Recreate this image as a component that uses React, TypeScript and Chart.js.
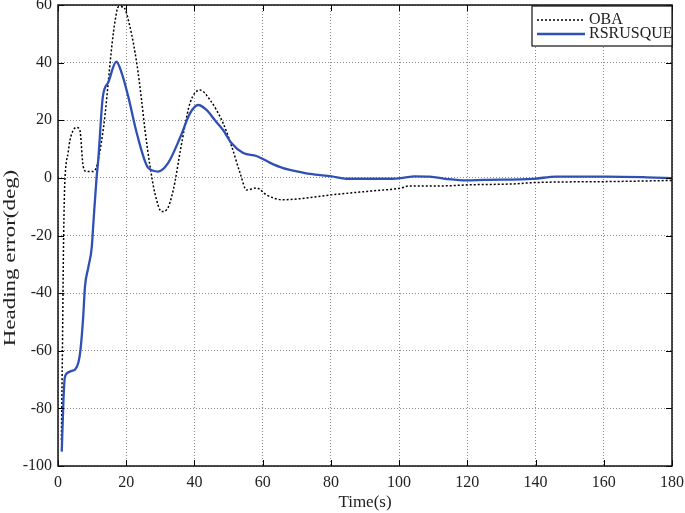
import React, { useEffect, useRef } from "react";
import { Chart, registerables } from "chart.js";

Chart.register(...registerables);

const obaTime = [1.0, 1.3, 1.6, 1.9, 2.1, 3.0, 3.5, 4.5, 5.5, 6.4, 7.4, 8.4, 10.3, 11.3, 12.8, 13.8, 14.8, 15.8, 16.8, 17.7, 19.1, 21.1, 23.1, 24.5, 25.5, 27, 28.4, 30.4, 31.9, 33.8, 35.8, 37.2, 38.7, 41.6, 44.6, 48.4, 50.9, 53.4, 55.3, 58.2, 61.2, 66, 70.4, 80.2, 92.4, 100.3, 103, 112, 120.8, 133.4, 140.3, 160.8, 180];
const obaValues = [-91, -60, -25, -5, 1, 9, 13, 16.6, 17.5, 16.6, 3.9, 2.2, 2.2, 3.9, 13, 22, 34, 46, 55, 59.4, 59.4, 52.4, 39.7, 27, 16.6, 3.9, -5.3, -11.7, -11, -4.2, 9, 18, 26, 30.5, 27, 19, 11, 1.6, -4.2, -3.5, -6, -7.6, -7.3, -5.9, -4.5, -3.6, -2.8, -2.8, -2.4, -2.1, -1.6, -1.3, -0.9];

const rsTime = [1.1, 1.6, 2.0, 3.0, 4.0, 5.0, 6.0, 6.6, 7.4, 7.9, 8.9, 9.9, 10.3, 11.3, 11.8, 13.1, 14.8, 17.1, 18.7, 20.6, 23.1, 26.5, 29.4, 32.3, 35.8, 38.7, 41.1, 43.6, 46, 48.4, 50.9, 54.3, 58.2, 62.2, 66, 70.4, 73.9, 80.2, 84.6, 98, 101.5, 104.5, 109, 114, 119.8, 125, 139.3, 146, 160.8, 172.6, 180];
const rsValues = [-95, -77, -69.3, -67.5, -67, -66.5, -64, -59.6, -48, -37.8, -31, -24, -17, 0, 6.2, 27.7, 33.3, 40.3, 36.3, 28.2, 15.5, 3.4, 2.2, 5.2, 14, 22.4, 25.3, 23.5, 20, 16.6, 12, 8.6, 7.6, 5.2, 3.4, 2.2, 1.4, 0.5, -0.3, -0.3, 0.1, 0.5, 0.4, -0.4, -0.9, -0.7, -0.35, 0.46, 0.46, 0.2, -0.1];

const seriesLabels = ["OBA", "RSRUSQUE"];
const xTitle = "Time(s)";
const yTitle = "Heading error(deg)";

const FONT = "'Liberation Serif', 'Times New Roman', serif";
const BLUE = "#2f50b4";

const boxPlugin = {
  id: "boxTicksLegend",
  afterDraw(chart: any) {
    const { ctx, chartArea } = chart;
    const { left, right, top, bottom } = chartArea;
    const xs = chart.scales.x;
    const ys = chart.scales.y;
    ctx.save();
    // inward ticks
    ctx.strokeStyle = "#000";
    ctx.lineWidth = 1;
    ctx.setLineDash([]);
    ctx.beginPath();
    xs.ticks.forEach((t: any) => {
      const px = Math.round(xs.getPixelForValue(t.value)) + 0.5;
      ctx.moveTo(px, bottom);
      ctx.lineTo(px, bottom - 6);
      ctx.moveTo(px, top);
      ctx.lineTo(px, top + 6);
    });
    ys.ticks.forEach((t: any) => {
      const py = Math.round(ys.getPixelForValue(t.value)) + 0.5;
      ctx.moveTo(left, py);
      ctx.lineTo(left + 6, py);
      ctx.moveTo(right, py);
      ctx.lineTo(right - 6, py);
    });
    ctx.stroke();
    // box
    ctx.lineWidth = 1.5;
    ctx.strokeStyle = "#111";
    ctx.strokeRect(left, top, right - left, bottom - top);
    // y title
    ctx.save();
    ctx.translate(11, 258);
    ctx.rotate(-Math.PI / 2);
    ctx.scale(1.35, 1);
    ctx.fillStyle = "#222";
    ctx.font = `17px ${FONT}`;
    ctx.textAlign = "center";
    ctx.textBaseline = "middle";
    ctx.fillText(yTitle, 0, 0);
    ctx.restore();
    // legend
    const lx = 532, ly = top + 1, lw = right - 532, lh = 40;
    ctx.fillStyle = "#fff";
    ctx.fillRect(lx, ly, lw, lh);
    ctx.lineWidth = 1.2;
    ctx.strokeStyle = "#111";
    ctx.strokeRect(lx, ly, lw, lh);
    const rows = [20, 34];
    chart.data.datasets.forEach((ds: any, i: number) => {
      const y = rows[i];
      ctx.beginPath();
      ctx.strokeStyle = ds.borderColor;
      ctx.lineWidth = ds.borderWidth;
      ctx.setLineDash(ds.borderDash || []);
      ctx.moveTo(537, y);
      ctx.lineTo(585, y);
      ctx.stroke();
      ctx.setLineDash([]);
      ctx.fillStyle = "#222";
      ctx.font = `16px ${FONT}`;
      ctx.textBaseline = "middle";
      ctx.textAlign = "left";
      ctx.fillText(ds.label, 589, y);
    });
    ctx.restore();
  },
};

export default function App() {
  const ref = useRef<HTMLCanvasElement | null>(null);
  useEffect(() => {
    if (!ref.current) return;
    const chart = new Chart(ref.current, {
      type: "line",
      data: {
        datasets: [
          {
            label: seriesLabels[0],
            data: obaTime.map((t, i) => ({ x: t, y: obaValues[i] })),
            borderColor: "#000",
            borderWidth: 1.5,
            borderDash: [2, 2],
            pointRadius: 0,
            cubicInterpolationMode: "monotone",
            fill: false,
            order: 2,
          },
          {
            label: seriesLabels[1],
            data: rsTime.map((t, i) => ({ x: t, y: rsValues[i] })),
            borderColor: BLUE,
            borderWidth: 2.3,
            pointRadius: 0,
            cubicInterpolationMode: "monotone",
            fill: false,
            order: 1,
          },
        ],
      },
      options: {
        animation: false,
        responsive: false,
        layout: { padding: { top: 5, right: 13, left: 0, bottom: 0 } },
        plugins: { legend: { display: false }, tooltip: { enabled: false } },
        scales: {
          x: {
            type: "linear",
            min: 0,
            max: 180,
            ticks: { stepSize: 20, color: "#222", font: { family: FONT, size: 16 }, padding: 7, maxRotation: 0 },
            grid: { color: "#8a8a8a", lineWidth: 1, drawTicks: false },
            border: { display: false, dash: [1, 2] },
            title: { display: true, text: xTitle, color: "#222", font: { family: FONT, size: 17 }, padding: 0 },
            afterFit(scale: any) {
              scale.height = 47;
              scale.paddingLeft = 0;
              scale.paddingRight = 0;
            },
          },
          y: {
            type: "linear",
            min: -100,
            max: 60,
            ticks: { stepSize: 20, color: "#222", font: { family: FONT, size: 16 }, padding: 6 },
            grid: { color: "#8a8a8a", lineWidth: 1, drawTicks: false },
            border: { display: false, dash: [1, 2] },
            title: { display: false, text: yTitle },
            afterFit(scale: any) {
              scale.width = 58;
              scale.paddingTop = 0;
              scale.paddingBottom = 0;
            },
          },
        },
      } as any,
      plugins: [boxPlugin],
    });
    return () => chart.destroy();
  }, []);
  return (
    <div style={{ position: "absolute", left: 0, top: 0, width: 685, height: 513, background: "#fff" }}>
      <canvas ref={ref} width={685} height={513} style={{ display: "block" }} />
    </div>
  );
}
